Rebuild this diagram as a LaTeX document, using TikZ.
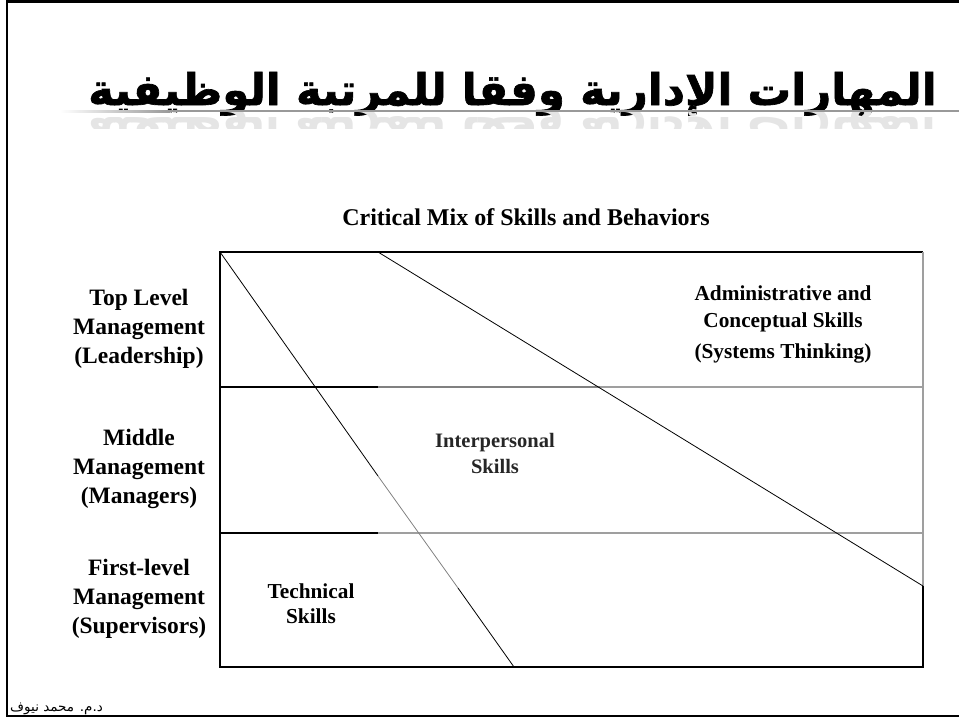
\documentclass[tikz,border=0pt]{standalone}
\usepackage{fontspec}
\setmainfont{Liberation Serif}
\newfontfamily\arabicfont[Script=Arabic]{DejaVu Sans}
\newfontfamily\titlefont[Script=Arabic, UprightFont={* Bold}, FakeBold=1.5]{DejaVu Sans}
\TeXXeTstate=1
\usetikzlibrary{positioning}

\begin{document}
\begin{tikzpicture}[
      x=1pt, y=-1pt,
      frameline/.style={line width=2.5pt},
      boxline/.style={line width=1.6pt},
      grayline/.style={line width=1.6pt, draw=gray!75},
      diag/.style={line width=0.8pt},
      lvl/.style={font=\fontsize{23.5}{29}\selectfont\bfseries, align=center, inner sep=0pt},
      skill/.style={font=\fontsize{21.3}{27}\selectfont\bfseries, align=center, inner sep=0pt}
    ]
    \useasboundingbox (0,0) rectangle (959,721);

    % slide frame
    \draw[frameline] (959,1.5) -- (7,1.5) -- (7,716) -- (959,716);

    % TITLE
    \node[font=\titlefont\fontsize{43.5}{50}\selectfont, inner sep=0pt, anchor=base east] (title) at (937,105) {\beginR المهارات الإدارية وفقا للمرتبة الوظيفية\endR};
    \begin{scope}
      \clip (60,112) rectangle (959,128);
      \node[font=\arabicfont\bfseries\fontsize{43.5}{50}\selectfont, inner sep=0pt, anchor=base east, yscale=-1, text=black!10] (reflect) at (937,117) {\beginR المهارات الإدارية وفقا للمرتبة الوظيفية\endR};
    \end{scope}
    \shade[left color=white, right color=gray!80] (60,110) rectangle (170,112);
    \fill[gray!80] (170,110) rectangle (959,112);

    % HEADING
    \node[font=\fontsize{24}{28}\selectfont\bfseries, inner sep=0pt] (mix) at (526,217) {Critical Mix of Skills and Behaviors};

    % 1. CHART FRAME
    \coordinate (tl) at (220,252);
    \coordinate (tr) at (923,252);
    \coordinate (bl) at (220,667);
    \coordinate (br) at (923,667);
    \coordinate (rmid) at (923,586);
    \draw[boxline] (rmid) -- (br) -- (bl) -- (tl) -- (tr);
    \draw[grayline] (tr) -- (rmid);

    % 2. LEVEL LINES
    \coordinate (topcut) at (378,387);
    \coordinate (midcut) at (378,533);
    \draw[boxline] (220,387) -- (topcut);
    \draw[grayline, draw=gray] (topcut) -- (600,387);
    \draw[grayline] (600,387) -- (923,387);
    \draw[boxline] (220,533) -- (midcut);
    \draw[grayline] (midcut) -- (923,533);

    % 3. SKILL BOUNDARIES
    \coordinate (techend) at (514,667);
    \coordinate (gray1) at (378,476);
    \coordinate (gray2) at (458,588);
    \draw[diag] (tl) -- (gray1);
    \draw[diag, draw=gray] (gray1) -- (gray2);
    \draw[diag] (gray2) -- (techend);
    \coordinate (admstart) at (378,252);
    \draw[diag] (admstart) -- (rmid);

    % 4. LEVEL LABELS
    \node[lvl] (top) at (139,329) {Top Level\\Management\\(Leadership)};
    \node[lvl] (middle) at (139,469) {Middle\\Management\\(Managers)};
    \node[lvl] (first) at (139,599) {First-level\\Management\\(Supervisors)};

    % 5. SKILL LABELS
    \node[skill] (adm) at (783,309) {Administrative and\\Conceptual Skills};
    \node[skill, below=11pt of adm] (systems) {(Systems Thinking)};
    \node[skill, font=\fontsize{20.5}{26}\selectfont\bfseries, text=black!85] (inter) at (495,453) {Interpersonal\\Skills};
    \node[skill, font=\fontsize{21.3}{25}\selectfont\bfseries] (tech) at (311,604) {Technical\\Skills};

    % FOOTER
    \node[font=\arabicfont\fontsize{13.5}{16}\selectfont, inner sep=0pt, anchor=base west] (author) at (10,711) {\beginR د.م. محمد نيوف\endR};
\end{tikzpicture}
\end{document}
